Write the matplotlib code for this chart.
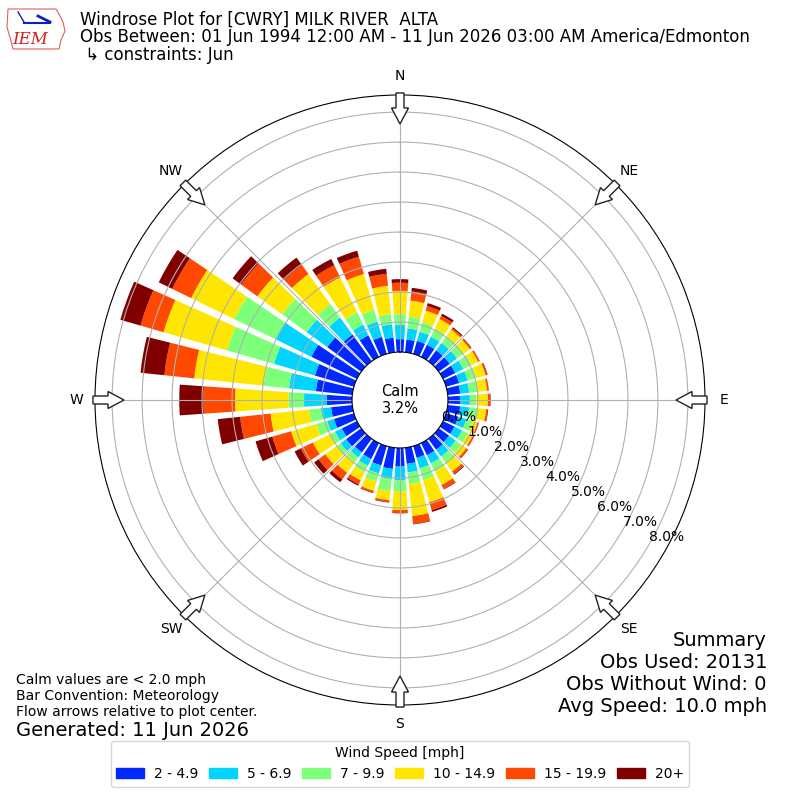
#!/usr/bin/env python3
"""
Windrose plot for [CWRY] MILK RIVER ALTA, June observations
"""
import numpy as np
import matplotlib
matplotlib.use("Agg")
import matplotlib.pyplot as plt
from matplotlib.patches import FancyArrow, Polygon, Patch

# direction bins, degrees (meteorological, wind from)
directions = list(range(0, 360, 10))

# frequency [%] per direction for each speed bin
speed_2_5 = [0.43, 0.43, 0.45, 0.45, 0.45, 0.45, 0.45, 0.45, 0.42, 0.40,
             0.42, 0.42, 0.42, 0.42, 0.45, 0.45, 0.41, 0.54, 0.62, 0.71,
             0.67, 0.59, 0.56, 0.62, 0.56, 0.69, 0.71, 0.84, 1.22, 1.35,
             1.69, 1.40, 1.10, 0.80, 0.59, 0.49]
speed_5_7 = [0.47, 0.37, 0.32, 0.30, 0.30, 0.30, 0.30, 0.30, 0.30, 0.33,
             0.30, 0.28, 0.28, 0.28, 0.28, 0.30, 0.36, 0.29, 0.45, 0.34,
             0.28, 0.25, 0.20, 0.23, 0.25, 0.24, 0.34, 0.76, 0.90, 1.42,
             1.34, 0.85, 0.70, 0.40, 0.53, 0.45]
speed_7_10 = [0.36, 0.39, 0.33, 0.30, 0.28, 0.28, 0.30, 0.30, 0.30, 0.22,
              0.27, 0.22, 0.22, 0.23, 0.27, 0.30, 0.41, 0.39, 0.39, 0.40,
              0.28, 0.25, 0.20, 0.16, 0.20, 0.37, 0.40, 0.52, 0.85, 1.63,
              1.52, 1.01, 0.55, 0.45, 0.41, 0.34]
speed_10_15 = [0.78, 0.54, 0.40, 0.35, 0.27, 0.25, 0.25, 0.32, 0.30, 0.38,
               0.30, 0.17, 0.18, 0.20, 0.35, 0.50, 0.77, 1.07, 0.61, 0.31,
               0.32, 0.29, 0.44, 0.47, 0.62, 0.88, 1.29, 1.78, 2.33, 2.20,
               1.60, 1.02, 1.24, 1.30, 1.24, 0.95]
speed_15_20 = [0.27, 0.31, 0.16, 0.12, 0.06, 0.05, 0.05, 0.05, 0.05, 0.07,
               0.05, 0.04, 0.05, 0.06, 0.10, 0.15, 0.27, 0.26, 0.10, 0.06,
               0.06, 0.15, 0.27, 0.28, 0.45, 0.65, 1.02, 1.06, 1.00, 0.80,
               0.70, 0.67, 0.38, 0.45, 0.60, 0.40]
speed_20_up = [0.12, 0.12, 0.10, 0.08, 0.04, 0.02, 0.01, 0.02, 0.01, 0.02,
               0.02, 0.01, 0.01, 0.02, 0.03, 0.02, 0.06, 0.02, 0.01, 0.02,
               0.02, 0.05, 0.12, 0.18, 0.23, 0.58, 0.75, 0.80, 0.80, 0.70,
               0.50, 0.35, 0.30, 0.23, 0.21, 0.17]

speed_labels = ["2 - 4.9", "5 - 6.9", "7 - 9.9", "10 - 14.9", "15 - 19.9", "20+"]
speed_colors = ["#0028ff", "#00d4ff", "#7cff79", "#ffe600", "#ff4800", "#800000"]

compass_angles = [0, 45, 90, 135, 180, 225, 270, 315]
compass_labels = ["N", "NE", "E", "SE", "S", "SW", "W", "NW"]
ring_ticks = [0, 1, 2, 3, 4, 5, 6, 7, 8]
calm_pct = 3.2


def draw_logo(fig):
    # rough IEM logo: state outline, wind barb and text
    pts = [(8, 9), (56, 9), (59, 14), (63, 22), (65, 31), (61, 40),
           (59, 49), (13, 49), (11, 41), (7, 27)]
    pts = [(x / 800.0, 1 - y / 800.0) for x, y in pts]
    fig.add_artist(Polygon(pts, closed=True, fill=False, ec="#e06060",
                           lw=0.8, transform=fig.transFigure))
    fig.add_artist(plt.Line2D([24 / 800, 50 / 800], [1 - 23 / 800, 1 - 23 / 800],
                              color="#1020c0", lw=1.5, transform=fig.transFigure))
    fig.add_artist(plt.Line2D([38 / 800, 50 / 800], [1 - 16 / 800, 1 - 22 / 800],
                              color="#1020c0", lw=2.0, transform=fig.transFigure))
    fig.add_artist(plt.Line2D([18 / 800, 24 / 800], [1 - 12 / 800, 1 - 22 / 800],
                              color="#1020c0", lw=1.0, transform=fig.transFigure))
    fig.text(12 / 800, 1 - 40 / 800, "IEM", color="#d02020", fontsize=12,
             family="DejaVu Serif", style="italic", va="center")


def draw_flow_arrows(fig, center, rad):
    # white arrows on the outer ring pointing at the plot center
    for ang in compass_angles:
        a = np.deg2rad(ang)
        ux, uy = np.sin(a), np.cos(a)
        tail = rad + 2 / 800.0
        length = 31 / 800.0
        arr = FancyArrow(center[0] + tail * ux, center[1] + tail * uy,
                         -length * ux, -length * uy,
                         width=8 / 800.0, head_width=17 / 800.0,
                         head_length=16 / 800.0, length_includes_head=True,
                         fc="white", ec="#222222", lw=1.0,
                         transform=fig.transFigure, zorder=10)
        fig.add_artist(arr)


def main():
    fig = plt.figure(figsize=(8, 8), dpi=100)
    ax = fig.add_axes([0.11875, 0.11875, 0.7625, 0.7625], projection="polar")
    ax.set_theta_zero_location("N")
    ax.set_theta_direction(-1)

    theta = np.deg2rad(directions)
    width = np.deg2rad(8)
    series = [speed_2_5, speed_5_7, speed_7_10, speed_10_15, speed_15_20, speed_20_up]

    # stacked bars
    base = np.zeros(len(directions))
    for vals, col, lab in zip(series, speed_colors, speed_labels):
        ax.bar(theta, vals, width=width, bottom=base, color=col, lw=0, label=lab)
        base = base + np.array(vals)

    # calm hole in the middle
    ax.set_rorigin(-1.6)
    ax.set_ylim(0, 8.57)
    ax.set_yticks(ring_ticks[1:])
    ax.set_yticklabels([])
    for r in ring_ticks:
        ax.text(np.deg2rad(120), r, "%.1f%%" % r, ha="left", va="bottom",
                fontsize=10)
    ax.text(0.5, 0.5, "Calm\n%.1f%%" % calm_pct, transform=ax.transAxes,
            ha="center", va="center", fontsize=10.5)

    ax.set_xticks(np.deg2rad(compass_angles))
    ax.set_xticklabels(compass_labels, fontsize=10)
    ax.tick_params(axis="x", pad=3)

    draw_flow_arrows(fig, (0.5, 0.5), 0.7625 / 2)
    draw_logo(fig)

    # header
    fig.text(80 / 800, 1 - 20 / 800, "Windrose Plot for [CWRY] MILK RIVER  ALTA",
             fontsize=12, va="center")
    fig.text(80 / 800, 1 - 37 / 800,
             "Obs Between: 01 Jun 1994 12:00 AM - 11 Jun 2026 03:00 AM America/Edmonton",
             fontsize=12, va="center")
    fig.text(80 / 800, 1 - 55 / 800, " \u21b3 constraints: Jun",
             fontsize=12, va="center")

    # notes bottom left
    notes = ["Calm values are < 2.0 mph", "Bar Convention: Meteorology",
             "Flow arrows relative to plot center."]
    for i, line in enumerate(notes):
        fig.text(16 / 800, 1 - (680 + 16 * i) / 800, line, fontsize=10, va="center")
    fig.text(16 / 800, 1 - 730 / 800, "Generated: 11 Jun 2026", fontsize=14,
             va="center")

    # summary bottom right
    summary = ["Summary", "Obs Used: 20131", "Obs Without Wind: 0",
               "Avg Speed: 10.0 mph"]
    for i, line in enumerate(summary):
        fig.text(767 / 800, 1 - (640 + 22 * i) / 800, line, fontsize=14,
                 ha="right", va="center")

    handles = [Patch(color=c, label=l) for c, l in zip(speed_colors, speed_labels)]
    fig.legend(handles=handles, loc="lower center", bbox_to_anchor=(0.5, 0.008),
               ncol=6, fontsize=10, title="Wind Speed [mph]", title_fontsize=10,
               columnspacing=0.8, handletextpad=0.7)

    fig.savefig("out.png", dpi=100)


if __name__ == "__main__":
    main()
